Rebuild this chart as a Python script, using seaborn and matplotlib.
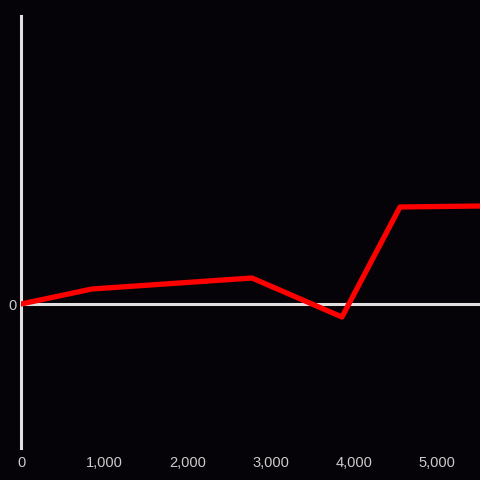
import pandas as pd
import matplotlib
matplotlib.use("Agg")
import matplotlib.pyplot as plt
import seaborn as sns

# values
x_vals = [0, 853, 2776, 3858, 4555, 5517]
y_vals = [0, 15, 26, -13, 97, 98]
x_ticks = [0, 1000, 2000, 3000, 4000, 5000]
x_tick_labels = ["0", "1,000", "2,000", "3,000", "4,000", "5,000"]

df = pd.DataFrame({"x": x_vals, "y": y_vals})

sns.set_style("dark")
plt.rcParams["font.family"] = ["Liberation Sans", "DejaVu Sans"]

bg = "#050307"
fig = plt.figure(figsize=(4.8, 4.8), dpi=100, facecolor=bg)
ax = fig.add_axes([21 / 480, 32 / 480, 459 / 480, 432 / 480])
ax.set_facecolor(bg)

ax.axhline(0, color="#e0e0e0", lw=2.2, zorder=1)
sns.lineplot(data=df, x="x", y="y", color="#ff0000", lw=3.8, ax=ax, zorder=3)

ax.set_xlim(0, 5517)
ax.set_ylim(-144, 288)
ax.set_xticks(x_ticks)
ax.set_xticklabels(x_tick_labels)
ax.set_yticks([0])
ax.set_yticklabels(["0"])
ax.tick_params(axis="both", length=0, colors="#cccccc", labelsize=10.5)
ax.tick_params(axis="x", pad=6)
ax.tick_params(axis="y", pad=3)
ax.set_xlabel("")
ax.set_ylabel("")
ax.grid(False)

for side in ["top", "right", "bottom"]:
    ax.spines[side].set_visible(False)
ax.spines["left"].set_color("#e0e0e0")
ax.spines["left"].set_linewidth(2.2)

fig.savefig("out.png", dpi=100, facecolor=bg)
